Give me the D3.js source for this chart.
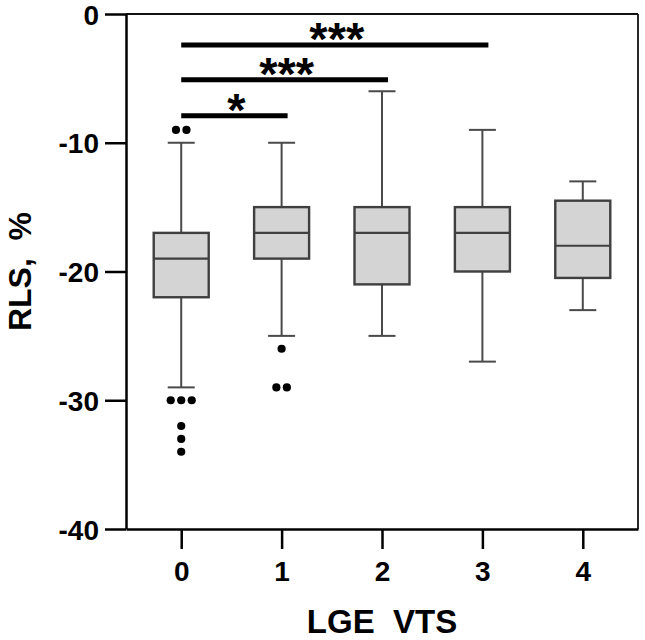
<!DOCTYPE html>
<html>
<head>
<meta charset="utf-8">
<script src="https://cdn.jsdelivr.net/npm/d3@7"></script>
<style>
  body { margin: 0; background: #fff; }
  svg { display: block; font-family: "Liberation Sans", Arial, sans-serif; }
</style>
</head>
<body>
<svg id="chart" width="645" height="640"></svg>
<script>
// groups on the x axis
const groups = ["0", "1", "2", "3", "4"];

// box plot summaries, RLS %
const whiskerHigh = [-10, -10, -6, -9, -13];
const q3 = [-17, -15, -15, -15, -14.5];
const median = [-19, -17, -17, -17, -18];
const q1 = [-22, -19, -21, -20, -20.5];
const whiskerLow = [-29, -25, -25, -27, -23];

// points beyond the whiskers
const outliers = [
  [-9, -9, -30, -30, -30, -32, -33, -34],
  [-26, -29, -29],
  [],
  [],
  []
];

// significance brackets: from group, to group, level (in %), label
const compFrom = ["0", "0", "0"];
const compTo = ["3", "2", "1"];
const compLevel = [-2.4, -5.1, -7.9];
const compLabel = ["***", "***", "*"];

const yTicks = [0, -10, -20, -30, -40];

const margin = {top: 14, right: 7, bottom: 111, left: 126};
const width = 645 - margin.left - margin.right;
const height = 640 - margin.top - margin.bottom;

const svg = d3.select("#chart");
const g = svg.append("g")
    .attr("transform", `translate(${margin.left},${margin.top})`);

let x = d3.scalePoint()
    .domain(groups)
    .range([0, width])
    .padding(0.55);

let y = d3.scaleLinear()
    .domain([0, -40])
    .range([0, height]);

const boxW = 55;
const capW = 27;

// frame top and right
g.append("line")
    .attr("x1", 0).attr("x2", width)
    .attr("y1", 0).attr("y2", 0)
    .attr("stroke", "#111").attr("stroke-width", 2);
g.append("line")
    .attr("x1", width).attr("x2", width)
    .attr("y1", 0).attr("y2", height)
    .attr("stroke", "#111").attr("stroke-width", 1.8);

let data = groups.map((gr, i) => ({
  group: gr,
  hi: whiskerHigh[i], q3: q3[i], med: median[i], q1: q1[i], lo: whiskerLow[i],
  out: outliers[i]
}));

let box = g.selectAll(".box")
    .data(data)
    .enter()
    .append("g")
    .attr("class", "box")
    .attr("transform", d => `translate(${x(d.group)},0)`);

// whiskers
box.append("line")
    .attr("x1", 0).attr("x2", 0)
    .attr("y1", d => y(d.hi)).attr("y2", d => y(d.q3))
    .attr("stroke", "#4a4a4a").attr("stroke-width", 2);
box.append("line")
    .attr("x1", 0).attr("x2", 0)
    .attr("y1", d => y(d.q1)).attr("y2", d => y(d.lo))
    .attr("stroke", "#4a4a4a").attr("stroke-width", 2);
box.append("line")
    .attr("x1", -capW / 2).attr("x2", capW / 2)
    .attr("y1", d => y(d.hi)).attr("y2", d => y(d.hi))
    .attr("stroke", "#4a4a4a").attr("stroke-width", 2);
box.append("line")
    .attr("x1", -capW / 2).attr("x2", capW / 2)
    .attr("y1", d => y(d.lo)).attr("y2", d => y(d.lo))
    .attr("stroke", "#4a4a4a").attr("stroke-width", 2);

// boxes
box.append("rect")
    .attr("x", -boxW / 2)
    .attr("width", boxW)
    .attr("y", d => y(d.q3))
    .attr("height", d => y(d.q1) - y(d.q3))
    .style("fill", "#d4d4d4")
    .attr("stroke", "#3f3f3f")
    .attr("stroke-width", 2.4);

box.append("line")
    .attr("x1", -boxW / 2).attr("x2", boxW / 2)
    .attr("y1", d => y(d.med)).attr("y2", d => y(d.med))
    .attr("stroke", "#3f3f3f").attr("stroke-width", 2.2);

// outliers, equal values spread side by side
const dotGap = 10.5;
box.each(function(d) {
  let counts = d3.rollup(d.out, v => v.length, v => v);
  let pts = [];
  counts.forEach((n, v) => {
    for (let k = 0; k < n; k++) pts.push({v: v, dx: (k - (n - 1) / 2) * dotGap});
  });
  d3.select(this).selectAll("circle")
      .data(pts)
      .enter()
      .append("circle")
      .attr("cx", p => p.dx)
      .attr("cy", p => y(p.v))
      .attr("r", 4.1)
      .style("fill", "#000");
});

// significance bars (right end runs a little past the box centre)
const barExtra = 6;
let comps = compFrom.map((f, i) => ({from: f, to: compTo[i], level: compLevel[i], label: compLabel[i]}));
g.selectAll(".sig")
    .data(comps)
    .enter()
    .append("line")
    .attr("x1", d => x(d.from))
    .attr("x2", d => x(d.to) + barExtra)
    .attr("y1", d => y(d.level))
    .attr("y2", d => y(d.level))
    .attr("stroke", "#000")
    .attr("stroke-width", 5);
g.selectAll(".sigtext")
    .data(comps)
    .enter()
    .append("text")
    .attr("text-anchor", "middle")
    .attr("x", d => (x(d.from) + x(d.to) + barExtra) / 2 + 2)
    .attr("y", d => y(d.level) + 10)
    .style("font-size", "47px")
    .style("font-weight", "bold")
    .text(d => d.label);

// axes
let yAxis = g.append("g")
    .call(d3.axisLeft(y).tickValues(yTicks).tickFormat(d => String(d))
      .tickSize(21).tickSizeOuter(0).tickPadding(6));
yAxis.select(".domain").attr("stroke", "#000").attr("stroke-width", 2.5);
yAxis.selectAll(".tick line").attr("stroke", "#000").attr("stroke-width", 2.5);
yAxis.selectAll(".tick text")
    .style("font-size", "28px")
    .style("font-weight", "bold")
    .style("fill", "#000")
    .attr("dy", "0.36em");

let xAxis = g.append("g")
    .attr("transform", `translate(0,${height})`)
    .call(d3.axisBottom(x).tickSize(20).tickSizeOuter(0).tickPadding(12));
xAxis.select(".domain").attr("stroke", "#000").attr("stroke-width", 2.5);
xAxis.selectAll(".tick line").attr("stroke", "#000").attr("stroke-width", 2.5);
xAxis.selectAll(".tick text")
    .style("font-size", "28px")
    .style("font-weight", "bold")
    .style("fill", "#000");

// axis titles
svg.append("text")
    .attr("text-anchor", "middle")
    .attr("x", margin.left + width / 2)
    .attr("y", 633)
    .style("font-size", "33px")
    .style("font-weight", "bold")
    .style("white-space", "pre")
    .text("LGE  VTS");

svg.append("text")
    .attr("text-anchor", "middle")
    .attr("transform", `translate(31,${margin.top + height / 2}) rotate(-90)`)
    .style("font-size", "32px")
    .style("font-weight", "bold")
    .style("white-space", "pre")
    .text("RLS,  %");
</script>
</body>
</html>
